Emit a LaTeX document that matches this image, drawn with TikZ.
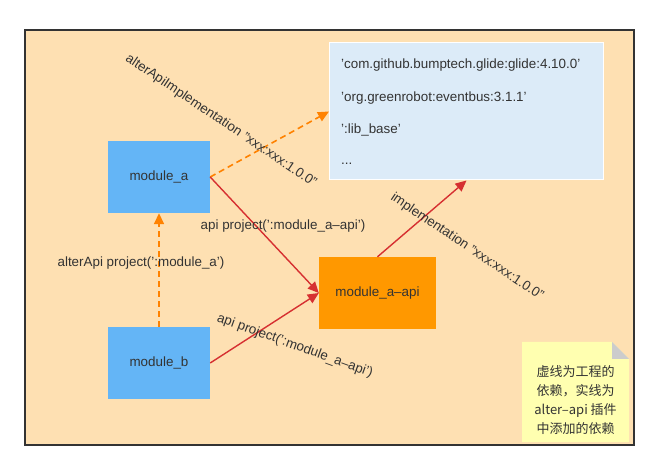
\documentclass[tikz,border=0pt]{standalone}
\usepackage{fontspec}
\setmainfont{Liberation Sans}[Ligatures=ResetAll]
\newfontfamily\cjk{Noto Sans CJK SC}
\usetikzlibrary{arrows.meta}

\definecolor{peach}{HTML}{FEE0B2}
\definecolor{modblue}{HTML}{64B5F6}
\definecolor{apiorange}{HTML}{FF9800}
\definecolor{libblue}{HTML}{DCEBF8}
\definecolor{noteyellow}{HTML}{FFFFB0}
\definecolor{solidred}{HTML}{D63031}
\definecolor{dashorange}{HTML}{FF8200}
\definecolor{txt}{HTML}{333333}

\tikzset{
	module/.style={fill=modblue, minimum width=102pt, minimum height=72pt, inner sep=0pt, text=txt},
	apibox/.style={fill=apiorange, minimum width=117pt, minimum height=72pt, inner sep=0pt, text=txt},
	dep/.style={draw=solidred, line width=1.4pt, -{Triangle[length=11pt,width=10pt]}},
	alt/.style={draw=dashorange, line width=1.6pt, dash pattern=on 6pt off 4pt, -{Triangle[length=11pt,width=10pt]}},
	lbl/.style={text=txt, inner sep=0pt}
}

\begin{document}
\begin{tikzpicture}[x=1pt, y=-1pt, font=\fontsize{13.4pt}{16pt}\selectfont]
	\useasboundingbox (0,0) rectangle (659,470);

	% draw frame
	\draw[fill=peach, draw=black!80, line width=2pt] (25,30) rectangle (634,445);

	% draw boxes
	\node[module] (a) at (159,177) {module\_a};
	\node[module] (b) at (159,363) {module\_b};
	\node[apibox] (api) at (377.5,293) {module\_a–api};
	\node[fill=libblue, draw=white, line width=1pt, minimum width=274pt, minimum height=137pt, inner sep=0pt] (lib) at (466.5,111.5) {};

	% draw library lines
	\foreach \y/\t [count=\i] in {65/{'com.github.bumptech.glide:glide:4.10.0'}, 98/{'org.greenrobot:eventbus:3.1.1'}, 130/{':lib\_base'}, 164/{...}}
	\node[lbl, anchor=west] (lib\i) at (341,\y) {\t};

	% draw note
	\fill[noteyellow] (522,342) -- (612,342) -- (629,359) -- (629,442) -- (522,442) -- cycle;
	\fill[black!20] (612,342) -- (629,359) -- (612,359) -- cycle;
	\node[lbl, align=center, font=\cjk\fontsize{13pt}{19pt}\selectfont] (note) at (575.5,400) {虚线为工程的\\依赖，实线为\\alter–api 插件\\中添加的依赖};

	% draw connectors
	\draw[alt] (a.east) -- (lib.west);
	\draw[alt] (b.north) -- (a.south);
	\draw[dep] (a.east) -- (api.west);
	\draw[dep] (b.east) -- (api.west);
	\draw[dep] (api.north) -- (lib.south);

	% draw labels
	\node[lbl, rotate=-34] (altimpl) at (221,121) {alterApiImplementation "xxx:xxx:1.0.0"};
	\node[lbl, rotate=-34] (impl) at (467,247) {implementation "xxx:xxx:1.0.0"};
	\node[lbl] (apia) at (283,226) {api project(':module\_a–api')};
	\node[lbl] (altapi) at (141,263) {alterApi project(':module\_a')};
	\node[lbl, rotate=-20] (apib) at (295,346) {api project(':module\_a–api')};
\end{tikzpicture}
\end{document}
